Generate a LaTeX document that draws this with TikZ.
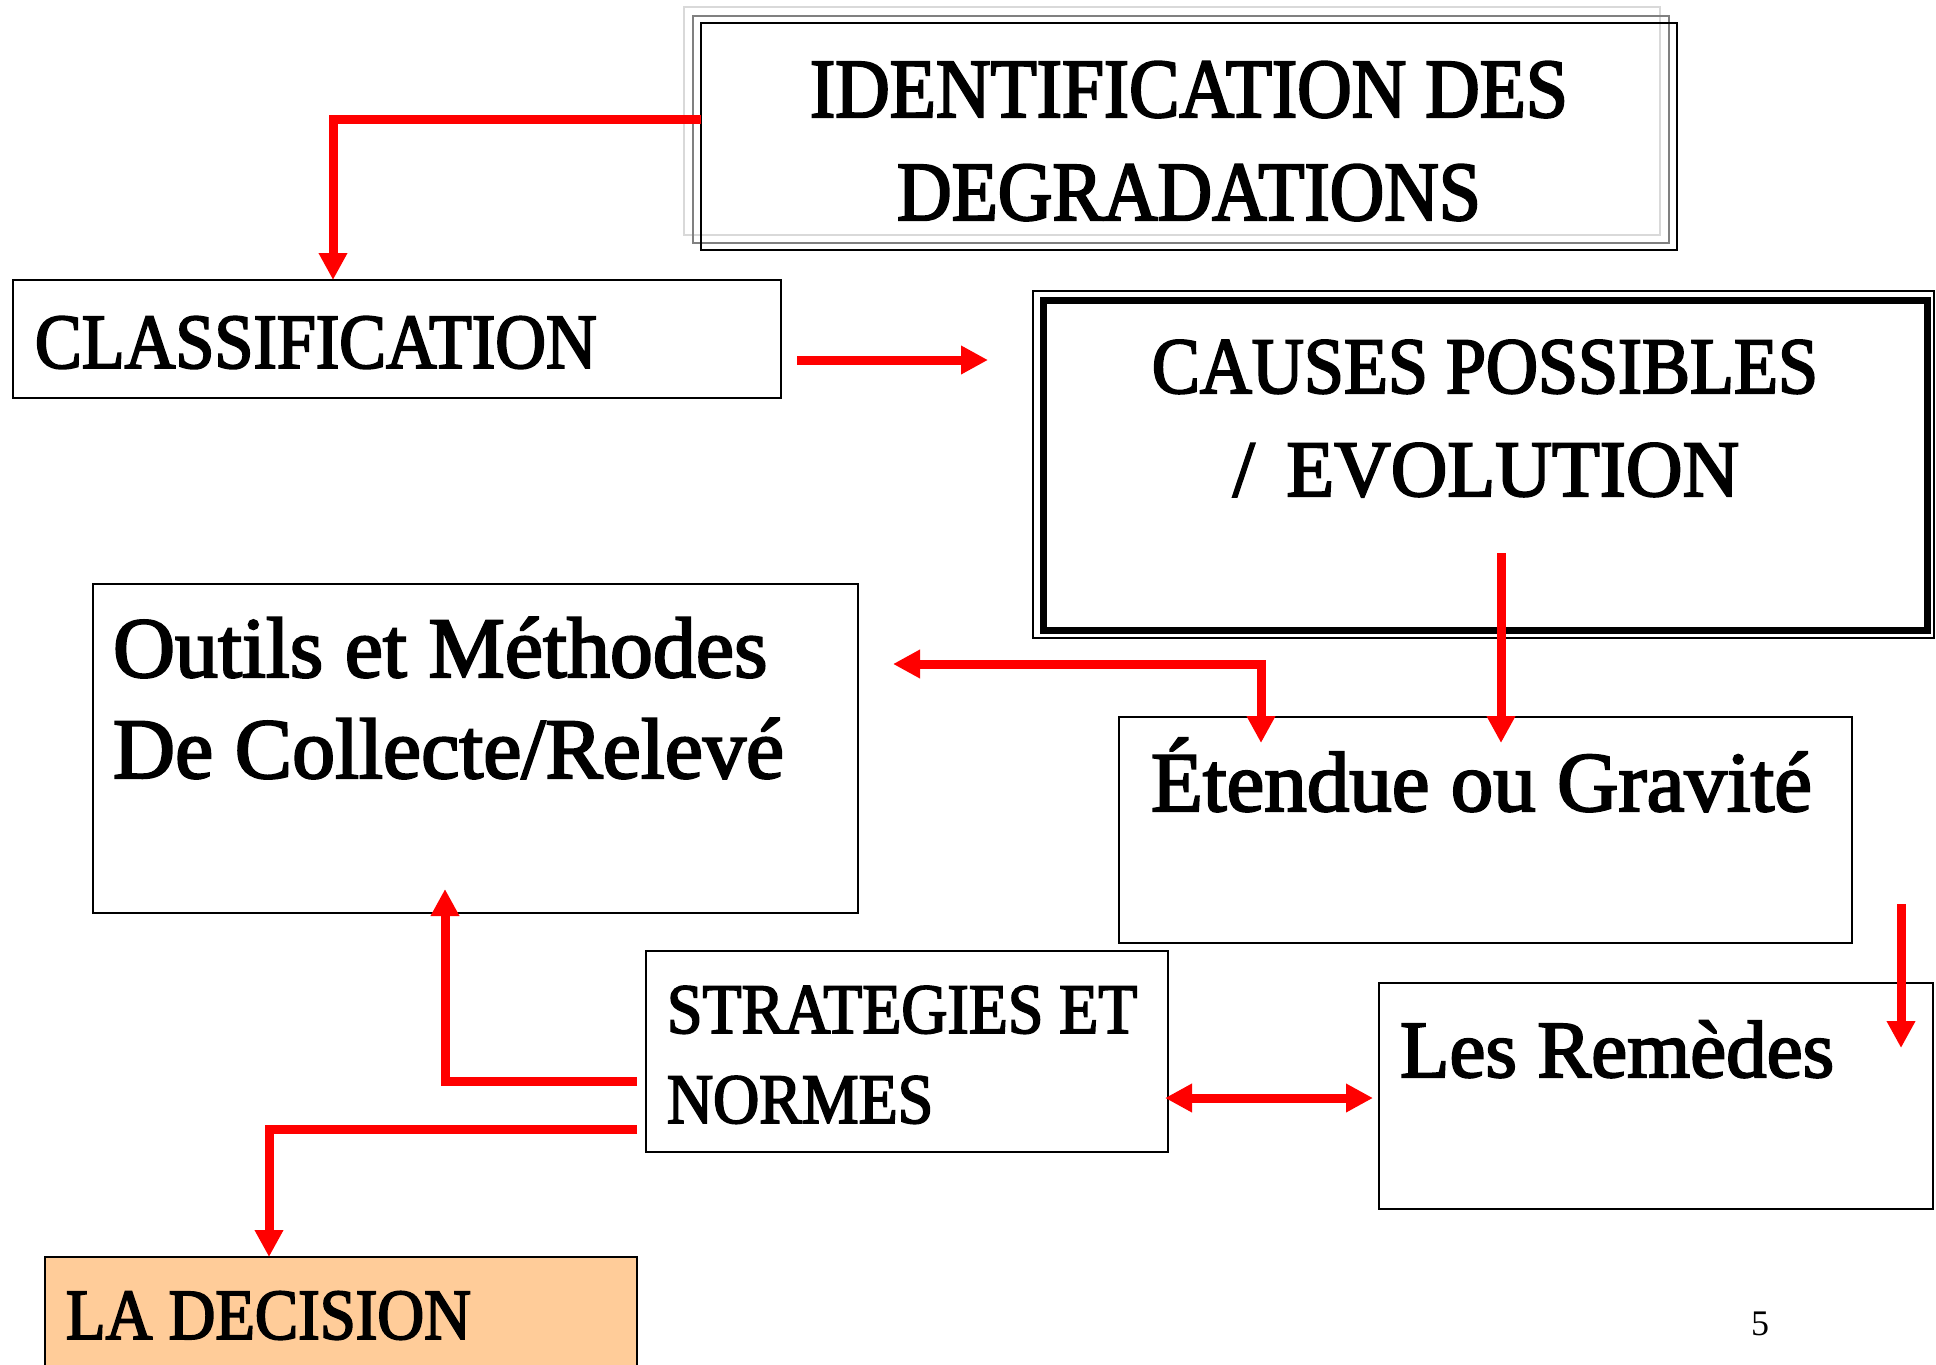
\documentclass[tikz,border=0pt]{standalone}
\usepackage{fontspec}
\setmainfont{Liberation Serif}
\newfontfamily\bodyf[FakeBold=2.5]{Liberation Serif}
\newfontfamily\capsf[FakeStretch=0.9,FakeBold=2.5]{Liberation Serif}
\newfontfamily\capsg[FakeStretch=0.98,FakeBold=2.5]{Liberation Serif}
\usetikzlibrary{arrows.meta,calc}
\definecolor{peach}{HTML}{FFCC99}
\definecolor{lgray}{HTML}{D9D9D9}
\definecolor{mgray}{HTML}{808080}
\tikzset{
  box/.style={draw=black, line width=1pt, inner sep=0pt, outer sep=0pt, rectangle},
  conn/.style={draw=red, line width=4.5pt},
  txt/.style={inner sep=0pt, outer sep=0pt, anchor=base west},
  ctxt/.style={inner sep=0pt, outer sep=0pt, anchor=base},
  >={Triangle[length=13.5pt,width=13.5pt]}
}
\begin{document}
\begin{tikzpicture}[x=0.5pt,y=-0.5pt]
\useasboundingbox (0,0) rectangle (1936,1364);
\clip (0,0) rectangle (1936,1364);

% boxes
\node[box, draw=lgray, minimum width=488pt, minimum height=114pt] (identC) at (1172,121) {};
\node[box, draw=mgray, minimum width=488pt, minimum height=113.5pt] (identB) at (1181,129.5) {};
\node[box, minimum width=488pt, minimum height=113.5pt] (ident) at (1189,136.5) {};

\node[box, minimum width=384pt, minimum height=59pt] (class) at (397,339) {};

\node[box, minimum width=450.5pt, minimum height=173.5pt] (causes) at (1483.5,464.5) {};
\draw[line width=3.5pt] ($(causes.north west)+(10,9)$) rectangle ($(causes.south east)+(-7,-8)$);

\node[box, minimum width=382.5pt, minimum height=164.5pt] (outils) at (475.5,748.5) {};
\node[box, minimum width=366.5pt, minimum height=113pt] (etendue) at (1485.5,830) {};
\node[box, minimum width=261pt, minimum height=100.5pt] (strat) at (907,1051.5) {};
\node[box, minimum width=277pt, minimum height=113pt] (remedes) at (1656,1096) {};
\node[box, fill=peach, minimum width=296pt, minimum height=81.5pt] (decision) at (341,1338.5) {};

% texts
\node[ctxt] (identT1) at (1189,117) {\capsf\fontsize{42pt}{48pt}\selectfont IDENTIFICATION DES};
\node[ctxt] (identT2) at (1189,220) {\capsf\fontsize{42pt}{48pt}\selectfont DEGRADATIONS};
\node[txt] (classT) at (35,368) {\capsf\fontsize{39pt}{45pt}\selectfont CLASSIFICATION};
\node[ctxt] (causesT1) at (1485,393) {\capsf\fontsize{40pt}{46pt}\selectfont CAUSES POSSIBLES};
\node[ctxt] (causesT2) at (1486,496) {\capsg\fontsize{40pt}{46pt}\selectfont /\hspace{6pt} EVOLUTION};
\node[txt] (outilsT1) at (113,677) {\bodyf\fontsize{43pt}{50pt}\selectfont Outils et Méthodes};
\node[txt] (outilsT2) at (113,778) {\bodyf\fontsize{43pt}{50pt}\selectfont De Collecte/Relevé};
\node[txt] (etendueT) at (1151,811) {\bodyf\fontsize{42.5pt}{48pt}\selectfont Étendue ou Gravité};
\node[txt] (stratT1) at (667,1033) {\capsf\fontsize{35.5pt}{42pt}\selectfont STRATEGIES ET};
\node[txt] (stratT2) at (667,1123) {\capsf\fontsize{35.5pt}{42pt}\selectfont NORMES};
\node[txt] (remedesT) at (1400,1077) {\bodyf\fontsize{40.5pt}{46pt}\selectfont Les Remèdes};
\node[txt] (decisionT) at (66,1339) {\capsf\fontsize{36pt}{42pt}\selectfont LA DECISION};
\node[ctxt] (page) at (1760,1335) {\fontsize{18pt}{20pt}\selectfont 5};

% connectors
\draw[conn, ->] ($(ident.north west)+(0,97)$) -| ($(class.north west)+(320,0)$);
\draw[conn, ->] ($(class.east)+(16,21)$) -- ($(causes.west)+(-45,-104.5)$);
\draw[conn, ->] ($(causes.south)+(17.5,-85)$) -- ($(etendue.north)+(15.5,26)$);
\draw[conn, <->] ($(outils.east)+(35,-84.5)$) -| ($(etendue.north west)+(142,26)$);
\draw[conn, ->] ($(etendue.east)+(49,74)$) -- ($(remedes.north east)+(-32,65)$);
\draw[conn, <->] ($(strat.east)+(-3,46.5)$) -- ($(remedes.west)+(-6,2)$);
\draw[conn, ->] ($(strat.west)+(-9,29.5)$) -| ($(outils.south)+(-30.5,-24)$);
\draw[conn, ->] ($(strat.west)+(-9,77.5)$) -| ($(decision.north west)+(224,0)$);
\end{tikzpicture}
\end{document}
